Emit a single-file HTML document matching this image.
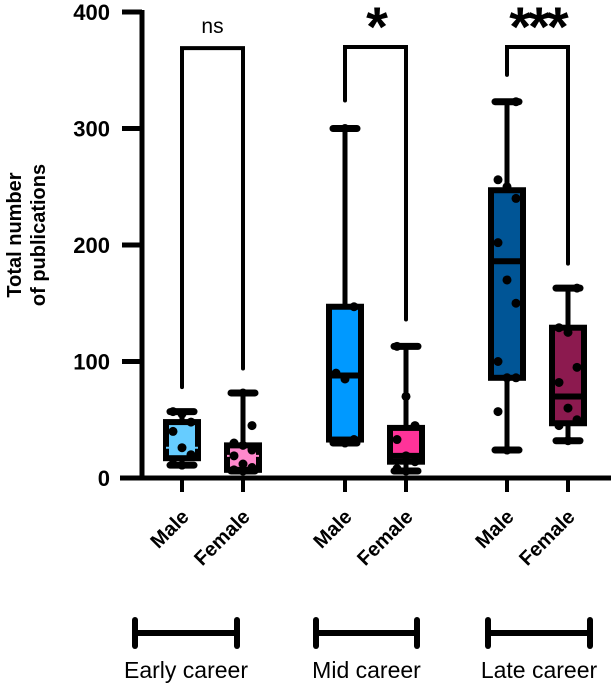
<!DOCTYPE html>
<html><head><meta charset="utf-8"><style>
html,body{margin:0;padding:0;background:#fff}
svg{display:block;font-family:"Liberation Sans",Arial,sans-serif}
</style></head><body>
<svg id="chart" width="611" height="685" viewBox="0 0 611 685"></svg>
<script>
const categories=["Male","Female","Male","Female","Male","Female"];
const groupNames=["Early career","Mid career","Late career"];
const whiskerLow=[11,6,30,6,24,32];
const q1=[17,7,33,14,86,47];
const medians=[26,19,88,19,186,70];
const q3=[48,28,147,43,247,129];
const whiskerHigh=[57,73,300,113,323,163];
const points=[[11,12,20,26,40,48,55,57],[6,7,9,12,19,24,28,30,45,73],[30,31,33,85,90,147,300],[6,8,14,19,33,45,70,113],[24,57,86,86,100,150,170,202,240,250,256,323],[32,45,50,60,82,95,125,129,163]];
const fills=["#66ccff","#ff88cc","#0099ff","#ff3399","#005596","#8c1a4f"];
const yTicks=[0,100,200,300,400];
const brackets=[{a:0,b:1,top:369,l:78,r:94,label:"ns"},{a:2,b:3,top:370,l:324,r:136,label:"*"},{a:4,b:5,top:370,l:346,r:184,label:"***"}];
const xPos=[182,243,345,406,507,568];
const NS="http://www.w3.org/2000/svg";
const svg=document.getElementById('chart');
function y(v){return 478-v*1.165;}
function el(t,a,p){const e=document.createElementNS(NS,t);for(const k in a)e.setAttribute(k,a[k]);(p||svg).appendChild(e);return e;}
let ax=el('line',{x1:142,y1:10,x2:142,y2:480,stroke:'#000','stroke-width':5});


let xa=el('line',{x1:120,y1:478,x2:611,y2:478,stroke:'#000','stroke-width':5});


yTicks.forEach(t=>{
 let tk=el('line',{x1:122,y1:y(t),x2:142,y2:y(t),stroke:'#000','stroke-width':5});
 
 
 let tl=el('text',{x:110,y:y(t)+8,'text-anchor':'end','font-size':22,'font-weight':'bold'});
 tl.textContent=t;
 
 
});
let yt=el('text',{transform:'translate(21,235) rotate(-90)','text-anchor':'middle','font-size':20,'font-weight':'bold'});


let s1=el('tspan',{x:0,y:0},yt);s1.textContent='Total number';
let s2=el('tspan',{x:0,dy:24},yt);s2.textContent='of publications';
categories.forEach((c,i)=>{
 const x=xPos[i];
 let tk=el('line',{x1:x,y1:478,x2:x,y2:492,stroke:'#000','stroke-width':4});
 
 
 let lb=el('text',{transform:`translate(${x+8},${518}) rotate(-45)`,'text-anchor':'end','font-size':20,'font-weight':'bold'});
 lb.textContent=c;
 
 
 const g=el('g',{});
 
 
 el('line',{x1:x,y1:y(whiskerLow[i]),x2:x,y2:y(whiskerHigh[i]),stroke:'#000','stroke-width':5},g);
 el('line',{x1:x-12,y1:y(whiskerHigh[i]),x2:x+12,y2:y(whiskerHigh[i]),stroke:'#000','stroke-width':7,'stroke-linecap':'round'},g);
 el('line',{x1:x-12,y1:y(whiskerLow[i]),x2:x+12,y2:y(whiskerLow[i]),stroke:'#000','stroke-width':7,'stroke-linecap':'round'},g);
 el('rect',{x:x-16,y:y(q3[i]),width:32,height:y(q1[i])-y(q3[i]),fill:fills[i],stroke:'#000','stroke-width':6},g);
 el('line',{x1:x-16,y1:y(medians[i]),x2:x+16,y2:y(medians[i]),stroke:i<2?fills[i]:'#000','stroke-width':i<2?2:6},g);
 points[i].forEach((p,j)=>{
  const dx=[0,-9,9,0,-9,9][j%6];
  let d=el('circle',{cx:x+dx,cy:y(p),r:4.5,fill:'#000'},g);
  
  
 });
});
brackets.forEach(b=>{
 const xa=xPos[b.a],xb=xPos[b.b],t=y(b.top);
 let p=el('path',{d:`M${xa},${y(b.l)} V${t} H${xb} V${y(b.r)}`,fill:'none',stroke:'#000','stroke-width':4,'stroke-linecap':'round'});
 
 
 const star=b.label!=='ns';
 let tx=el('text',{x:(xa+xb)/2,y:star?46:33,'text-anchor':'middle','font-size':star?56:21,'font-weight':star?'bold':'normal','letter-spacing':star?-3:0});
 tx.textContent=b.label;
 
 
});
const gBars=[[135,237],[316,417],[488,590]];
groupNames.forEach((n,i)=>{
 const [a,b]=gBars[i];
 const g=el('g',{});
 
 
 el('line',{x1:a,y1:633,x2:b,y2:633,stroke:'#000','stroke-width':6},g);
 el('line',{x1:a,y1:620,x2:a,y2:646,stroke:'#000','stroke-width':6,'stroke-linecap':'round'},g);
 el('line',{x1:b,y1:620,x2:b,y2:646,stroke:'#000','stroke-width':6,'stroke-linecap':'round'},g);
 let t=el('text',{x:(a+b)/2,y:678,'text-anchor':'middle','font-size':23});
 t.textContent=n;
 
 
});
</script>
</body></html>
